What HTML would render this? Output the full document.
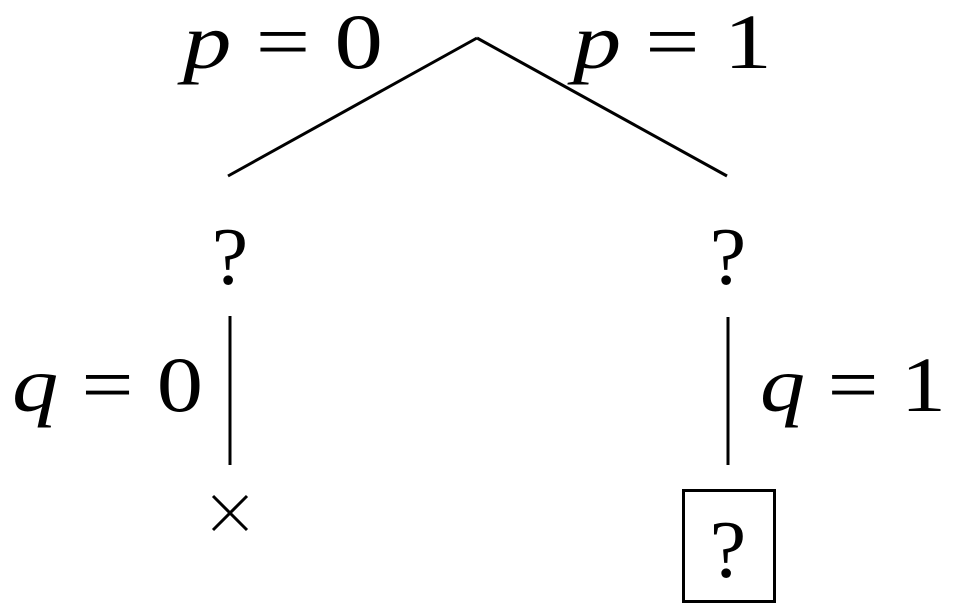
<!DOCTYPE html>
<html><head><meta charset="utf-8"><style>html,body{margin:0;padding:0;background:#fff}svg{display:block}
text{font-family:"Liberation Serif","DejaVu Serif",serif;font-size:78px}</style></head>
<body>
<svg width="957" height="613" viewBox="0 0 957 613" xmlns="http://www.w3.org/2000/svg" fill="#000">
<g stroke="#000" stroke-width="3" fill="none">
<line x1="228" y1="176" x2="477" y2="38"/>
<line x1="477" y1="38" x2="727" y2="176"/>
<line x1="230" y1="316" x2="230" y2="465"/>
<line x1="728" y1="317" x2="728" y2="465"/>
<rect x="683.5" y="490.5" width="91" height="111"/>
<line x1="213" y1="496" x2="247" y2="530"/>
<line x1="247" y1="496" x2="213" y2="530"/>
</g>
<text x="183" y="68" textLength="200" lengthAdjust="spacingAndGlyphs"><tspan font-style="italic">p</tspan> = 0</text>
<text x="573" y="68" textLength="199" lengthAdjust="spacingAndGlyphs"><tspan font-style="italic">p</tspan> = 1</text>
<text x="12" y="411" textLength="191" lengthAdjust="spacingAndGlyphs"><tspan font-style="italic">q</tspan> = 0</text>
<text x="760" y="411" textLength="186" lengthAdjust="spacingAndGlyphs"><tspan font-style="italic">q</tspan> = 1</text>
<text x="230" y="284" text-anchor="middle" style="font-size:82px">?</text>
<text x="728" y="284" text-anchor="middle" style="font-size:82px">?</text>
<text x="728" y="577" text-anchor="middle" style="font-size:82px">?</text>
</svg>
</body></html>
